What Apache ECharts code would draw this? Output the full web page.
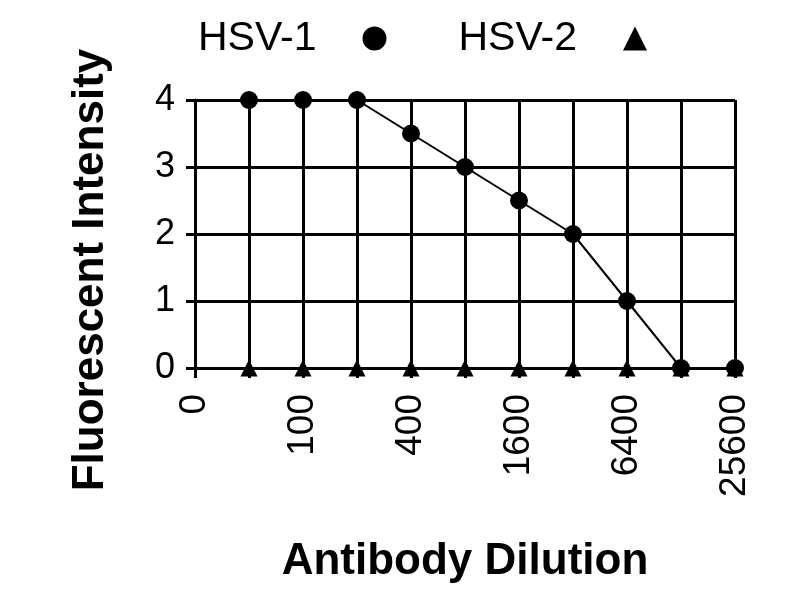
<!DOCTYPE html>
<html><head><meta charset="utf-8">
<script src="https://cdn.jsdelivr.net/npm/echarts@6/dist/echarts.min.js"></script>
<style>html,body{margin:0;padding:0;background:#fff}#c{width:800px;height:600px}</style>
</head><body><div id="c"></div>
<script>
const categories = ['0','50','100','200','400','800','1600','3200','6400','12800','25600'];
const hsv1 = [null,4,4,4,3.5,3,2.5,2,1,0,0];
const hsv2 = [null,0,0,0,0,0,0,0,0,0,0];
const yTicks = [0,1,2,3,4];

const FF = '"Liberation Sans", Arial, sans-serif';
const chart = echarts.init(document.getElementById('c'), null, {renderer:'canvas'});
chart.setOption({
  backgroundColor: '#ffffff',
  animation: false,
  legend: {
    top: 13, left: 193,
    align: 'right',
    itemGap: 72,
    itemWidth: 24, itemHeight: 24,
    textStyle: {fontFamily: FF, fontSize: 41, color: '#000', padding: [0, 41, 0, 0]},
    data: [
      {name: 'HSV-1', icon: 'circle'},
      {name: 'HSV-2', icon: 'triangle'}
    ]
  },
  grid: {left: 195, right: 65, top: 100, bottom: 232, containLabel: false},
  xAxis: {
    type: 'category',
    data: categories,
    boundaryGap: false,
    name: 'Antibody Dilution',
    nameLocation: 'middle',
    nameGap: 172,
    nameTextStyle: {fontFamily: FF, fontSize: 44, fontWeight: 'bold', color: '#000', verticalAlign: 'top'},
    axisLine: {show: true, lineStyle: {color: '#000', width: 3}},
    axisTick: {show: true, length: 10, interval: 0, lineStyle: {color: '#000', width: 3}},
    axisLabel: {interval: 1, rotate: 90, margin: 26, fontFamily: FF, fontSize: 37, color: '#000'},
    splitLine: {show: true, interval: 0, lineStyle: {color: '#000', width: 3}}
  },
  yAxis: {
    type: 'value',
    min: yTicks[0], max: yTicks[yTicks.length-1], interval: 1,
    name: 'Fluorescent Intensity',
    nameLocation: 'middle',
    nameGap: 82,
    nameTextStyle: {fontFamily: FF, fontSize: 44, fontWeight: 'bold', color: '#000', padding: [0, 72, 0, 0]},
    axisLine: {show: true, lineStyle: {color: '#000', width: 3}},
    axisTick: {show: true, length: 9, lineStyle: {color: '#000', width: 3}},
    axisLabel: {margin: 20, fontFamily: FF, fontSize: 36, color: '#000'},
    splitLine: {show: true, lineStyle: {color: '#000', width: 3}}
  },
  series: [
    {
      name: 'HSV-1', type: 'line', data: hsv1,
      symbol: 'circle', symbolSize: 18,
      itemStyle: {color: '#000'},
      lineStyle: {color: '#000', width: 2},
      z: 3
    },
    {
      name: 'HSV-2', type: 'line', data: hsv2,
      symbol: 'triangle', symbolSize: 17,
      itemStyle: {color: '#000'},
      lineStyle: {color: '#000', width: 2},
      z: 2
    }
  ]
});
</script></body></html>
